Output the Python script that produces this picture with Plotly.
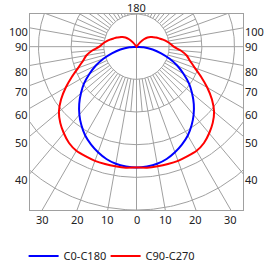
import numpy as np
import plotly.graph_objects as go

# ---- data (luminous intensity, arbitrary units; grid ring step = 50) ----
gamma = [0, 5, 10, 15, 20, 25, 30, 35, 40, 45, 50, 55, 60, 65, 70, 75, 80, 85, 90,
         95, 100, 105, 110, 115, 120, 125, 130, 135, 140, 145, 150, 155, 160, 165, 170, 175, 180]
c0_c180 = [185, 184, 182, 178, 172, 165, 157, 147, 136, 124, 111, 98, 83, 69, 54, 39, 25, 11, 0,
           0, 0, 0, 0, 0, 0, 0, 0, 0, 0, 0, 0, 0, 0, 0, 0, 0, 0]
c90_c270 = [185, 186, 186, 186, 186, 185, 184, 180, 173, 165, 155, 141, 125, 109, 95, 85, 78, 68, 57,
            52, 47, 42, 37, 33, 29, 26, 22, 16, 8, 0, 0, 0, 0, 0, 0, 0, 0]
series_names = ["C0-C180", "C90-C270"]
series_colors = ["#0000ff", "#ff0000"]

ring_values = [50, 100, 150, 200, 250]
bottom_labels = [30, 20, 10, 0, 10, 20, 30]
bottom_angles = [-30, -20, -10, 0, 10, 20, 30]
side_labels = [100, 90, 80, 70, 60, 50, 40]
top_label = "180"

# plot window (data units)
XMAX = 163
YTOP = 50
YBOT = -250

GRID = "#a0a0a0"
TXT = "#222222"
FONT = "Noto Sans"


def to_xy(angles_deg, radii, side=1):
    a = np.radians(np.asarray(angles_deg, dtype=float))
    r = np.asarray(radii, dtype=float)
    return side * r * np.sin(a), -r * np.cos(a)


fig = go.Figure()

# ---- grid ----
gx, gy = [], []
t = np.radians(np.arange(0, 361, 1))
for rv in ring_values:
    gx += list(rv * np.sin(t)) + [None]
    gy += list(-rv * np.cos(t)) + [None]
for ang in range(0, 360, 5):
    a = np.radians(ang)
    if ang % 90 == 0:
        r0, r1 = 0, 1000
    elif ang % 10 == 0:
        r0, r1 = ring_values[0], 1000
    else:
        r0, r1 = ring_values[0], ring_values[1]
    gx += [r0 * np.sin(a), r1 * np.sin(a), None]
    gy += [-r0 * np.cos(a), -r1 * np.cos(a), None]
fig.add_trace(go.Scatter(x=gx, y=gy, mode="lines", line=dict(color=GRID, width=1),
                         hoverinfo="skip", showlegend=False))

# ---- curves ----
legend_ids = ["legend", "legend2"]
for name, vals, col, lg in zip(series_names, [c0_c180, c90_c270], series_colors, legend_ids):
    xr, yr = to_xy(gamma, vals, 1)
    xl, yl = to_xy(gamma, vals, -1)
    x = list(xl[::-1]) + list(xr[1:])
    y = list(yl[::-1]) + list(yr[1:])
    fig.add_trace(go.Scatter(x=x, y=y, mode="lines", name=name, legend=lg,
                             line=dict(color=col, width=2, shape="spline", smoothing=0.6)))

# ---- labels ----
ann = []
for lab, ang in zip(bottom_labels, bottom_angles):
    xpos = -YBOT * np.tan(np.radians(ang))
    ann.append(dict(x=xpos, xref="x", y=0, yref="paper", text=str(lab), showarrow=False,
                    xanchor="center", yanchor="top", yshift=-1, borderpad=0,
                    font=dict(size=11, color=TXT)))
for lab in side_labels:
    if lab == 90:
        ypos, ysh = 0, 0
    elif lab == 100:
        ypos, ysh = -XMAX / np.tan(np.radians(lab)), -4
    else:
        ypos, ysh = -XMAX / np.tan(np.radians(lab)), -6
    for side, xp, xa in [(-1, 0, "right"), (1, 1, "left")]:
        ann.append(dict(x=xp, xref="paper", y=ypos, yref="y", text=str(lab), showarrow=False,
                        xanchor=xa, yanchor="middle", xshift=-1 if side < 0 else 1, yshift=ysh,
                        borderpad=0, font=dict(size=11, color=TXT)))
ann.append(dict(x=0, xref="x", y=1, yref="paper", text=top_label, showarrow=False,
                xanchor="center", yanchor="bottom", yshift=-2, borderpad=0,
                font=dict(size=11, color=TXT)))

legend_style = dict(orientation="h", xanchor="left", y=-0.235, yanchor="middle",
                    font=dict(size=11, color=TXT), itemwidth=30, bgcolor="rgba(0,0,0,0)")

fig.update_layout(
    width=275, height=266,
    margin=dict(l=30, r=32, t=14, b=56, autoexpand=False),
    paper_bgcolor="white", plot_bgcolor="white",
    font=dict(family=FONT, size=11, color=TXT),
    xaxis=dict(range=[-XMAX, XMAX], showgrid=False, zeroline=False, showticklabels=False,
               showline=True, mirror=True, linecolor=GRID, linewidth=1, ticks=""),
    yaxis=dict(range=[YBOT, YTOP], showgrid=False, zeroline=False, showticklabels=False,
               showline=True, mirror=True, linecolor=GRID, linewidth=1, ticks=""),
    annotations=ann,
    showlegend=True,
    legend=dict(x=-0.03, **legend_style),
    legend2=dict(x=0.355, **legend_style),
)

fig.write_html("out.html")
